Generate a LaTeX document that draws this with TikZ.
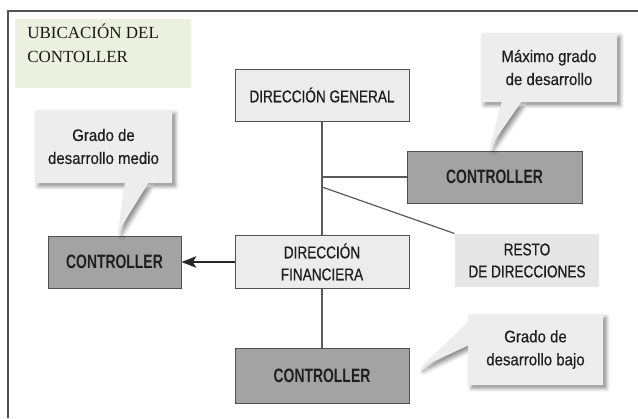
\documentclass[tikz,border=0pt]{standalone}
\usepackage{fontspec}
\setmainfont{Liberation Serif}
\newfontfamily\cajafont[FakeStretch=0.8, FakeBold=0.6]{Liberation Sans}
\newfontfamily\ctrlfont[FakeStretch=0.72]{Liberation Sans}
\newfontfamily\notafont[FakeStretch=0.9, FakeBold=0.4]{Liberation Sans}
\usepackage{tikz}
\usetikzlibrary{arrows.meta, shadows.blur}
\usepackage{xcolor}
\definecolor{verdeclaro}{RGB}{235,241,222}
\definecolor{grisclaro}{RGB}{236,236,236}
\definecolor{grismedio}{RGB}{163,163,163}
\definecolor{grisresto}{RGB}{230,230,230}
\definecolor{grisnota}{RGB}{237,237,237}
\definecolor{borde}{RGB}{80,80,80}
\definecolor{textoscuro}{RGB}{30,30,30}

\begin{document}
\begin{tikzpicture}[
    x=0.75pt, y=-0.75pt,
    caja/.style={draw=borde, line width=0.75pt, fill=grisclaro, inner sep=0pt, align=center, text=textoscuro,
                 font=\cajafont\fontsize{12.75}{16.5}\selectfont},
    ctrl/.style={caja, fill=grismedio, font=\ctrlfont\fontsize{14.5}{16.5}\selectfont\bfseries},
    notafondo/.style={fill=grisnota,
                 blur shadow={shadow xshift=2.5pt, shadow yshift=-2.5pt, shadow blur radius=3pt, shadow opacity=45}},
    notatexto/.style={inner sep=0pt, align=center, text=textoscuro, font=\notafont\fontsize{12.5}{17.25}\selectfont},
    linea/.style={draw=gray!70!black, line width=0.9pt},
    flecha/.style={draw=black!85, line width=1.5pt, -{Stealth[length=11pt, width=8.5pt, inset=2.5pt]}} % flecha hacia el controller
    ]
\useasboundingbox (0,0) rectangle (638,418);
\draw[gray!65!black, line width=1pt] (8,418) -- (8,11) -- (638,11);

\node[fill=verdeclaro, minimum width=132pt, minimum height=51.75pt, inner sep=0pt] (titulo) at (103,53.5) {};
\node[anchor=north west, align=left, inner sep=0pt, text=black!90, font=\fontsize{12.75}{18}\selectfont] (tituloTexto) at (27,24) {UBICACIÓN DEL\\CONTOLLER};

\node[caja, minimum width=130.5pt, minimum height=39pt] (dg) at (322,95) {DIRECCIÓN GENERAL};
\node[caja, minimum width=130.5pt, minimum height=39.75pt] (df) at (322,262) {DIRECCIÓN\\FINANCIERA};
\node[ctrl, minimum width=130.5pt, minimum height=41.25pt] (ctrlB) at (322,375.5) {CONTROLLER};
\node[ctrl, minimum width=131.25pt, minimum height=39pt] (ctrlD) at (494.5,177) {CONTROLLER};
\node[ctrl, minimum width=99.75pt, minimum height=39pt] (ctrlI) at (114.5,262) {CONTROLLER};
\node[caja, draw=none, fill=grisresto, minimum width=108pt, minimum height=39.75pt] (resto) at (527,260.5) {RESTO\\DE DIRECCIONES};

\coordinate (rama) at (322,187);
\draw[linea] (dg) -- (df);
\draw[linea] (df) -- (ctrlB);
\draw[linea] (dg.south |- ctrlD.west) -- (ctrlD.west);
\draw[linea] (rama) -- (resto.north west);
\draw[flecha] (df) -- (ctrlI);

% bocadillos
\fill[notafondo] (35,110) rectangle (172,183) (125,182) -- (118,232) -- (149,182) -- cycle;
\node[notatexto] (notaMedio) at (103.5,146.5) {Grado de\\desarrollo medio};
\fill[notafondo] (481,33) rectangle (617,102) (502,101) -- (490,147) -- (522,101) -- cycle;
\node[notatexto] (notaMax) at (549,67.5) {Máximo grado\\de desarrollo};
\fill[notafondo] (468,314) rectangle (603,385) (469,321) -- (420,368) -- (469,345) -- cycle;
\node[notatexto] (notaBajo) at (535.5,349.5) {Grado de\\desarrollo bajo};
\end{tikzpicture}
\end{document}
